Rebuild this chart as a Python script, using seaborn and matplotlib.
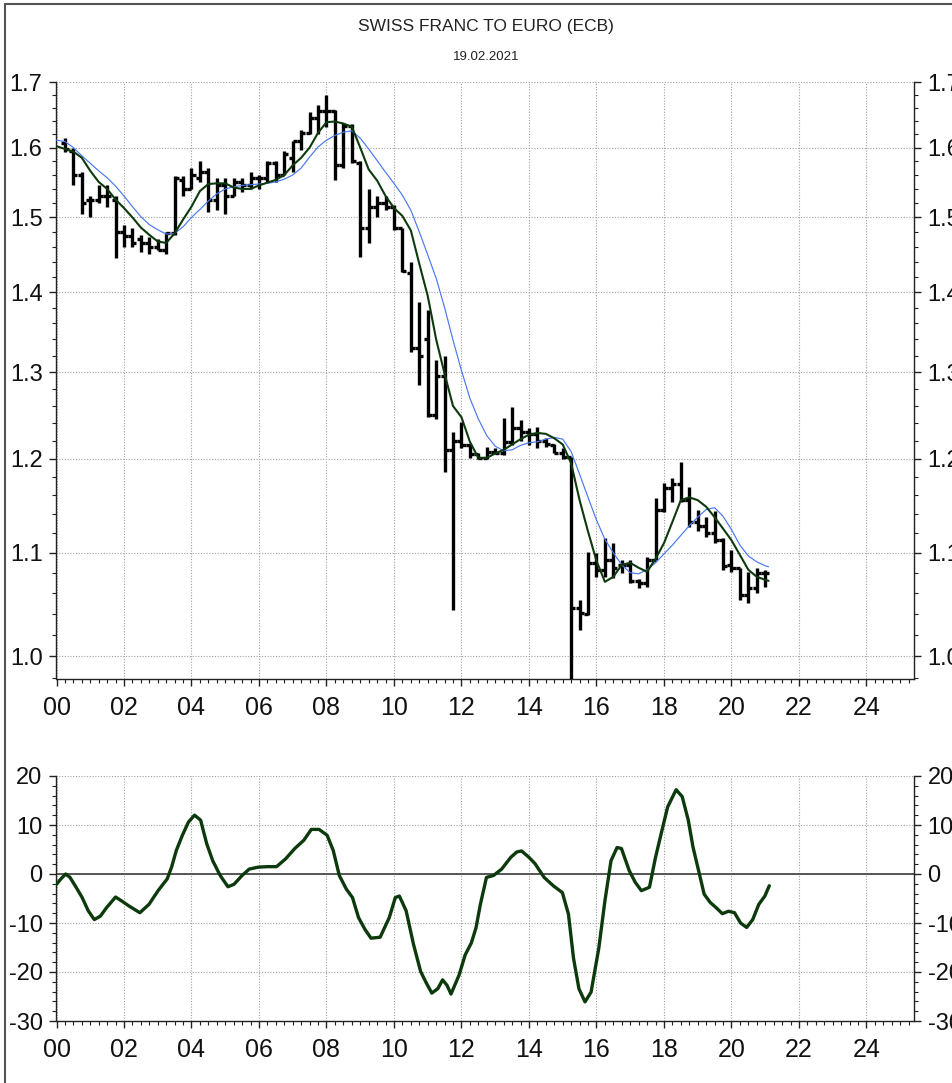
import numpy as np
import pandas as pd
import matplotlib
matplotlib.use("Agg")
import matplotlib.pyplot as plt
import seaborn as sns
from matplotlib import font_manager
from matplotlib.ticker import FixedLocator, NullFormatter
from matplotlib.lines import Line2D

# ---------------------------------------------------------------- data
quarters = pd.period_range("2000Q1", "2020Q4", freq="Q")

bar_open = [1.607, 1.595, 1.560, 1.525, 1.525, 1.530, 1.525, 1.480, 1.475, 1.470, 1.465, 1.460,
            1.455, 1.478, 1.553, 1.540, 1.555, 1.565, 1.525, 1.545, 1.530, 1.550, 1.545, 1.555,
            1.555, 1.578, 1.560, 1.585, 1.610, 1.622, 1.645, 1.655, 1.655, 1.575, 1.632, 1.578,
            1.485, 1.515, 1.520, 1.515, 1.485, 1.425, 1.330, 1.340, 1.250, 1.295, 1.210, 1.220,
            1.215, 1.205, 1.201, 1.208, 1.207, 1.219, 1.235, 1.230, 1.228, 1.220, 1.215, 1.207,
            1.202, 1.045, 1.040, 1.090, 1.083, 1.093, 1.088, 1.088, 1.072, 1.070, 1.093, 1.145,
            1.168, 1.172, 1.155, 1.132, 1.128, 1.120, 1.113, 1.088, 1.085, 1.058, 1.065, 1.080]
bar_high = [1.614, 1.600, 1.565, 1.530, 1.545, 1.545, 1.530, 1.490, 1.485, 1.476, 1.473, 1.470,
            1.480, 1.558, 1.558, 1.570, 1.580, 1.570, 1.555, 1.555, 1.555, 1.555, 1.565, 1.560,
            1.580, 1.580, 1.595, 1.610, 1.626, 1.653, 1.665, 1.680, 1.657, 1.637, 1.635, 1.580,
            1.540, 1.530, 1.530, 1.517, 1.485, 1.440, 1.387, 1.377, 1.315, 1.320, 1.230, 1.242,
            1.217, 1.206, 1.213, 1.212, 1.246, 1.259, 1.244, 1.235, 1.236, 1.223, 1.217, 1.212,
            1.202, 1.053, 1.101, 1.100, 1.115, 1.110, 1.093, 1.093, 1.074, 1.096, 1.157, 1.173,
            1.179, 1.197, 1.169, 1.145, 1.137, 1.144, 1.115, 1.103, 1.085, 1.081, 1.085, 1.083]
bar_low = [1.593, 1.545, 1.505, 1.500, 1.520, 1.515, 1.445, 1.460, 1.460, 1.453, 1.450, 1.455,
           1.450, 1.476, 1.530, 1.540, 1.550, 1.507, 1.510, 1.505, 1.530, 1.535, 1.540, 1.540,
           1.550, 1.550, 1.560, 1.565, 1.597, 1.620, 1.620, 1.630, 1.553, 1.570, 1.578, 1.446,
           1.465, 1.500, 1.510, 1.483, 1.426, 1.325, 1.285, 1.247, 1.245, 1.185, 1.043, 1.212,
           1.201, 1.200, 1.200, 1.205, 1.204, 1.215, 1.220, 1.215, 1.212, 1.213, 1.206, 1.200,
           0.975, 1.024, 1.039, 1.076, 1.076, 1.075, 1.080, 1.070, 1.065, 1.066, 1.093, 1.142,
           1.153, 1.153, 1.127, 1.123, 1.116, 1.110, 1.083, 1.081, 1.053, 1.050, 1.060, 1.066]
bar_close = [1.598, 1.560, 1.520, 1.525, 1.530, 1.530, 1.480, 1.475, 1.465, 1.465, 1.460, 1.455,
             1.478, 1.555, 1.540, 1.560, 1.565, 1.525, 1.545, 1.530, 1.550, 1.545, 1.555, 1.555,
             1.578, 1.560, 1.590, 1.610, 1.622, 1.645, 1.655, 1.655, 1.575, 1.632, 1.580, 1.485,
             1.515, 1.520, 1.515, 1.485, 1.428, 1.330, 1.320, 1.250, 1.295, 1.210, 1.220, 1.215,
             1.205, 1.201, 1.208, 1.207, 1.219, 1.235, 1.230, 1.228, 1.220, 1.216, 1.207, 1.202,
             1.045, 1.041, 1.090, 1.083, 1.093, 1.085, 1.088, 1.072, 1.070, 1.093, 1.145, 1.168,
             1.172, 1.155, 1.132, 1.128, 1.120, 1.113, 1.087, 1.085, 1.058, 1.065, 1.080, 1.080]

# moving averages sampled every quarter from 2000.0, last point on 19.02.2021
ma_years = [2000 + 0.25 * i for i in range(85)] + [2021.1]
ma_short = [1.602, 1.598, 1.594, 1.585, 1.566, 1.550, 1.540, 1.525, 1.513, 1.500, 1.486, 1.476,
            1.467, 1.465, 1.478, 1.497, 1.515, 1.537, 1.547, 1.548, 1.548, 1.542, 1.540, 1.540,
            1.545, 1.549, 1.553, 1.560, 1.574, 1.585, 1.600, 1.622, 1.638, 1.639, 1.636, 1.631,
            1.600, 1.568, 1.552, 1.530, 1.513, 1.502, 1.482, 1.437, 1.395, 1.340, 1.298, 1.260,
            1.247, 1.219, 1.201, 1.201, 1.206, 1.210, 1.216, 1.222, 1.227, 1.229, 1.228, 1.223,
            1.216, 1.195, 1.155, 1.122, 1.092, 1.071, 1.076, 1.088, 1.090, 1.085, 1.081, 1.094,
            1.110, 1.132, 1.155, 1.158, 1.155, 1.148, 1.137, 1.125, 1.113, 1.098, 1.083, 1.076,
            1.073, 1.072]
ma_long = [1.611, 1.609, 1.600, 1.588, 1.577, 1.566, 1.556, 1.544, 1.530, 1.515, 1.501, 1.490,
           1.483, 1.477, 1.478, 1.487, 1.500, 1.511, 1.523, 1.533, 1.540, 1.543, 1.545, 1.546,
           1.547, 1.548, 1.550, 1.554, 1.560, 1.570, 1.586, 1.601, 1.611, 1.618, 1.623, 1.625,
           1.614, 1.598, 1.581, 1.564, 1.548, 1.531, 1.510, 1.480, 1.449, 1.418, 1.380, 1.339,
           1.302, 1.269, 1.245, 1.226, 1.214, 1.209, 1.210, 1.215, 1.218, 1.219, 1.222, 1.224,
           1.222, 1.208, 1.183, 1.158, 1.134, 1.114, 1.100, 1.088, 1.080, 1.079, 1.083, 1.090,
           1.099, 1.108, 1.118, 1.128, 1.137, 1.145, 1.147, 1.138, 1.124, 1.108, 1.097, 1.091,
           1.087, 1.086]

# momentum oscillator (lower panel)
osc_years = [2000.00, 2000.13, 2000.27, 2000.40, 2000.58, 2000.76, 2000.94, 2001.12, 2001.30,
             2001.48, 2001.75, 2001.93, 2002.14, 2002.47, 2002.74, 2003.01, 2003.28, 2003.41,
             2003.55, 2003.73, 2003.91, 2004.09, 2004.27, 2004.45, 2004.63, 2004.85, 2005.08,
             2005.26, 2005.50, 2005.71, 2005.98, 2006.25, 2006.52, 2006.79, 2007.06, 2007.33,
             2007.55, 2007.78, 2008.02, 2008.20, 2008.38, 2008.59, 2008.77, 2008.95, 2009.14,
             2009.32, 2009.59, 2009.86, 2010.04, 2010.16, 2010.36, 2010.58, 2010.79, 2010.94,
             2011.12, 2011.30, 2011.44, 2011.57, 2011.69, 2011.93, 2012.11, 2012.29, 2012.43,
             2012.56, 2012.74, 2012.95, 2013.19, 2013.46, 2013.64, 2013.78, 2014.00, 2014.18,
             2014.45, 2014.72, 2014.99, 2015.17, 2015.32, 2015.48, 2015.66, 2015.84, 2016.07,
             2016.25, 2016.43, 2016.61, 2016.74, 2016.97, 2017.15, 2017.33, 2017.57, 2017.75,
             2017.93, 2018.11, 2018.36, 2018.54, 2018.72, 2018.86, 2019.05, 2019.19, 2019.37,
             2019.55, 2019.73, 2019.91, 2020.09, 2020.27, 2020.45, 2020.63, 2020.81, 2020.99,
             2021.12]
osc_values = [-2.1, -1.0, 0.0, -0.7, -2.7, -4.8, -7.5, -9.3, -8.6,
              -6.9, -4.7, -5.5, -6.5, -7.9, -6.2, -3.4, -1.0, 1.4,
              4.8, 7.9, 10.6, 12.0, 11.0, 6.2, 2.7, -0.3, -2.6,
              -2.1, -0.3, 1.0, 1.4, 1.5, 1.5, 3.1, 5.2, 6.9,
              9.1, 9.1, 7.9, 4.8, -0.3, -3.1, -4.8, -8.9, -11.3,
              -13.1, -12.9, -8.9, -4.8, -4.5, -7.5, -14.4, -19.9, -22.0,
              -24.3, -23.4, -21.6, -22.7, -24.5, -20.6, -16.5, -14.1, -11.0,
              -6.2, -0.7, -0.3, 1.0, 3.4, 4.5, 4.7, 3.4, 2.1,
              -0.7, -2.4, -3.8, -8.2, -17.2, -23.4, -26.1, -24.1, -15.1,
              -5.5, 2.7, 5.4, 5.2, 0.7, -1.7, -3.4, -2.7, 3.4,
              8.6, 13.7, 17.2, 15.8, 11.0, 5.5, 0.0, -4.1, -5.8,
              -6.9, -8.1, -7.6, -7.9, -10.0, -10.9, -9.3, -6.2, -4.5,
              -2.4]

price_ticks = [1.0, 1.1, 1.2, 1.3, 1.4, 1.5, 1.6, 1.7]
price_tick_labels = ["1.0", "1.1", "1.2", "1.3", "1.4", "1.5", "1.6", "1.7"]
osc_ticks = [-30, -20, -10, 0, 10, 20]
osc_tick_labels = ["-30", "-20", "-10", "0", "10", "20"]
year_ticks = list(range(2000, 2026, 2))
year_tick_labels = ["00", "02", "04", "06", "08", "10", "12", "14", "16", "18", "20", "22", "24"]

TITLE = "SWISS FRANC TO EURO (ECB)"
SUBTITLE = "19.02.2021"

# ---------------------------------------------------------------- style
sns.set_theme(style="white")
available = {f.name for f in font_manager.fontManager.ttflist}
families = [f for f in ["Liberation Sans Narrow", "Liberation Sans", "DejaVu Sans"] if f in available]
plt.rcParams["font.family"] = families
plt.rcParams["axes.unicode_minus"] = False

INK = "#222222"
GRID = "#a0a0a0"
GREEN = "#0d3a0d"
BLUE = "#4a78f0"
LABEL_SIZE = 17

bars = pd.DataFrame({
    "year": [q.year + 0.25 * q.quarter for q in quarters],
    "open": bar_open, "high": bar_high, "low": bar_low, "close": bar_close,
})
ma = pd.DataFrame({"year": ma_years, "short": ma_short, "long": ma_long})
osc = pd.DataFrame({"year": osc_years, "value": osc_values})

W, H = 953, 1083
fig = plt.figure(figsize=(W / 100, H / 100), dpi=100)
fig.patch.set_facecolor("white")

left = 56.5 / W
width = (913.7 - 56.5) / W
ax = fig.add_axes([left, 1 - 679 / H, width, (679 - 82) / H])
ax2 = fig.add_axes([left, 1 - 1021 / H, width, (1021 - 776) / H])


def style_axes(a):
    for side in ("left", "right", "bottom"):
        a.spines[side].set_visible(True)
        a.spines[side].set_color(INK)
        a.spines[side].set_linewidth(1.0)
    a.spines["top"].set_visible(False)
    a.set_facecolor("white")
    a.set_xlim(2000, 2025.4)
    a.xaxis.set_major_locator(FixedLocator(year_ticks))
    a.set_xticklabels(year_tick_labels)
    a.xaxis.set_minor_locator(FixedLocator(np.arange(2000, 2025.4, 0.25)))
    a.xaxis.set_minor_formatter(NullFormatter())
    a.tick_params(axis="x", which="major", direction="out", length=5, width=1,
                  color=INK, labelsize=LABEL_SIZE + 1, labelcolor="#111111", pad=7, bottom=True)
    a.tick_params(axis="x", which="minor", direction="out", length=3, width=0.8,
                  color=INK, bottom=True)
    a.tick_params(axis="y", which="major", direction="out", length=5, width=1,
                  color=INK, labelsize=LABEL_SIZE, labelcolor="#111111", pad=5,
                  left=True, right=True, labelleft=True, labelright=True)
    a.tick_params(axis="y", which="minor", direction="out", length=3, width=0.8,
                  color=INK, left=True, right=True)
    a.grid(True, which="major", axis="both", color=GRID, linestyle=(0, (1, 1.5)), linewidth=0.8)
    a.set_xlabel("")
    a.set_ylabel("")


# ---------------------------------------------------------------- price panel
ax.set_yscale("log")
ax.vlines(bars["year"], bars["low"], bars["high"], color="black", linewidth=2.4, zorder=3)
ax.hlines(bars["open"], bars["year"] - 0.12, bars["year"], color="black", linewidth=2.4, zorder=3)
ax.hlines(bars["close"], bars["year"], bars["year"] + 0.12, color="black", linewidth=2.4, zorder=3)
sns.lineplot(data=ma, x="year", y="long", ax=ax, color=BLUE, linewidth=0.85, zorder=4)
sns.lineplot(data=ma, x="year", y="short", ax=ax, color=GREEN, linewidth=1.5, zorder=5)
style_axes(ax)
ax.set_ylim(0.979, 1.7)
ax.yaxis.set_major_locator(FixedLocator(price_ticks))
ax.set_yticklabels(price_tick_labels)
minor_prices = [p for p in np.round(np.arange(0.98, 1.70, 0.02), 2) if round(p * 10) != p * 10]
ax.yaxis.set_minor_locator(FixedLocator(minor_prices))
ax.yaxis.set_minor_formatter(NullFormatter())

# ---------------------------------------------------------------- oscillator panel
ax2.axhline(0, color="#4a4a4a", linewidth=1.3, zorder=2)
sns.lineplot(data=osc, x="year", y="value", ax=ax2, color=GREEN, linewidth=2.4, zorder=4)
style_axes(ax2)
ax2.set_ylim(-30, 20)
ax2.yaxis.set_major_locator(FixedLocator(osc_ticks))
ax2.set_yticklabels(osc_tick_labels)
ax2.yaxis.set_minor_locator(FixedLocator([v for v in range(-30, 21, 2) if v % 10 != 0]))
ax2.yaxis.set_minor_formatter(NullFormatter())

# ---------------------------------------------------------------- titles and frame
fig.text(486 / W, 1 - 27 / H, TITLE, ha="center", va="center", fontsize=12.5, color="#222222")
fig.text(486 / W, 1 - 57 / H, SUBTITLE, ha="center", va="center", fontsize=9.5, color="#222222")
fig.add_artist(Line2D([5 / W, 1], [1 - 4 / H, 1 - 4 / H], transform=fig.transFigure,
                      color="#555555", linewidth=1.5))
fig.add_artist(Line2D([5 / W, 5 / W], [0, 1 - 4 / H], transform=fig.transFigure,
                      color="#555555", linewidth=1.5))

fig.savefig("out.png", dpi=100, facecolor="white")
